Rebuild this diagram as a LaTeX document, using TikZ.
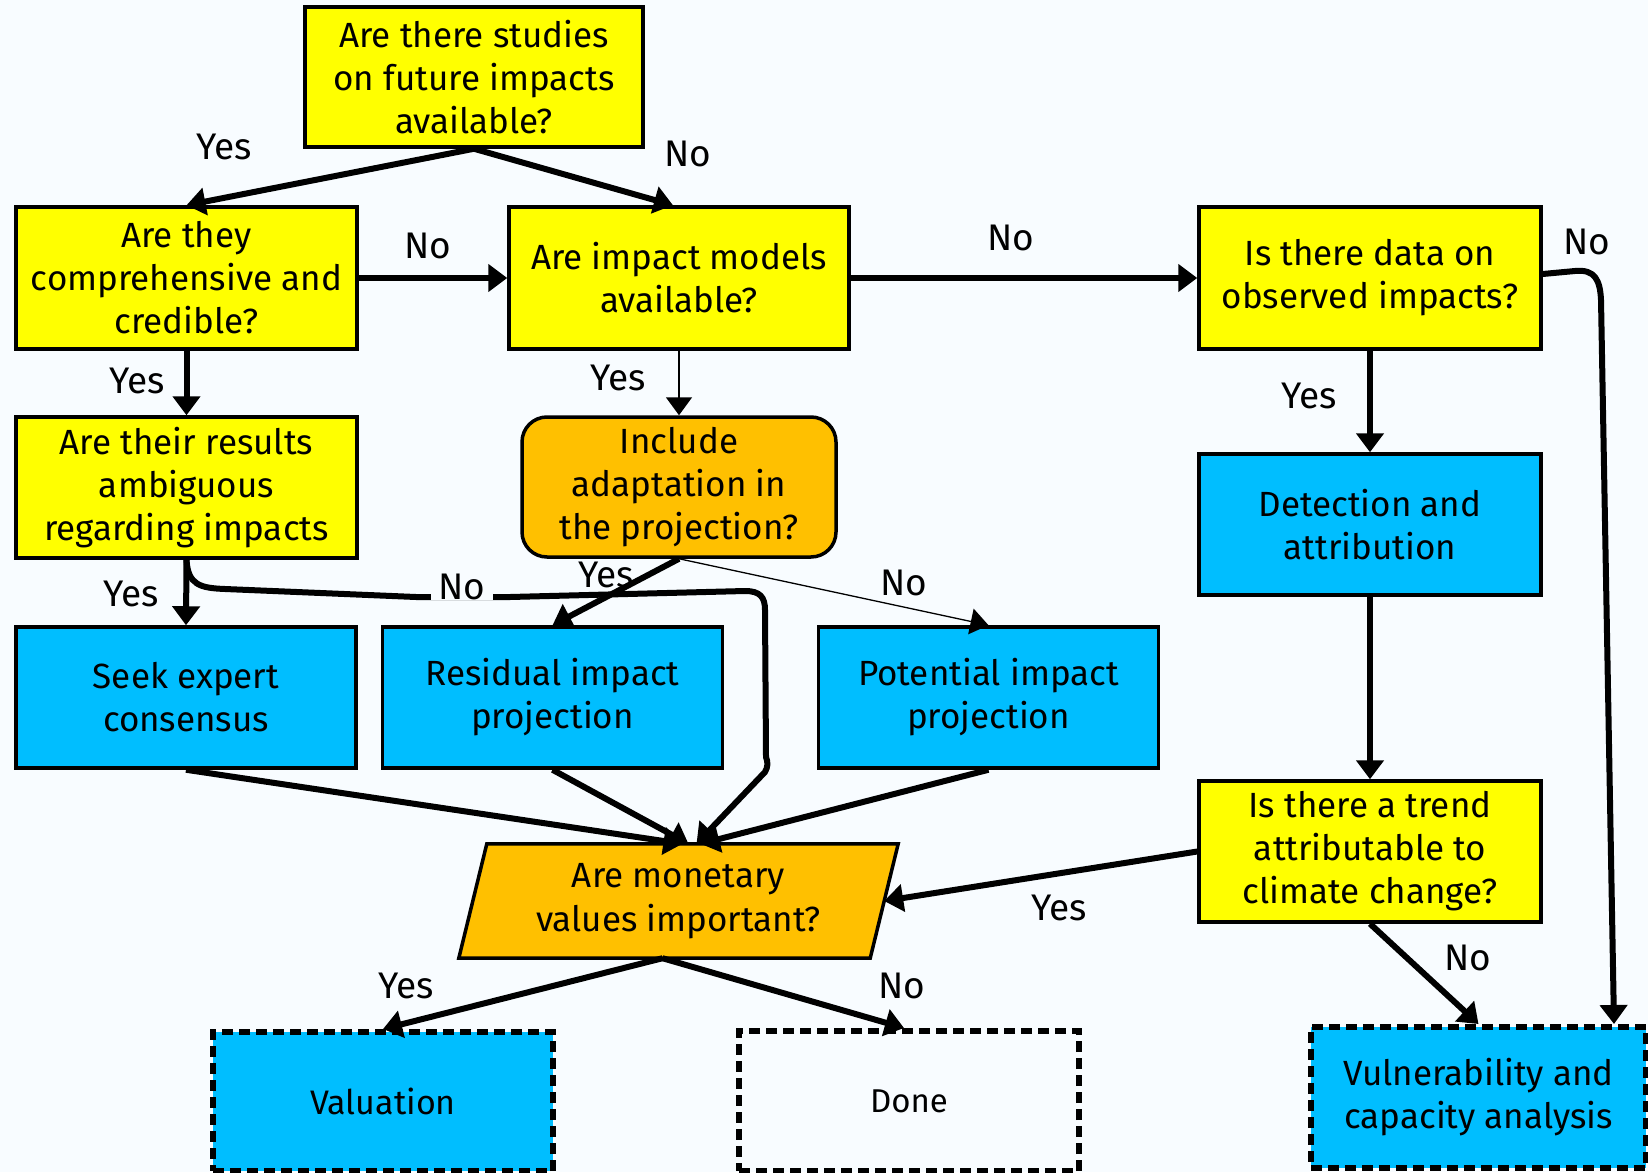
\documentclass[tikz,border=0pt]{standalone}
\usepackage{fontspec}
\setmainfont{Fira Sans}
\usetikzlibrary{arrows.meta,calc,backgrounds}
\definecolor{bg}{RGB}{248,252,255}
\definecolor{qyellow}{RGB}{255,255,0}
\definecolor{pblue}{RGB}{0,190,255}
\definecolor{porange}{RGB}{255,192,0}
\begin{document}
\begin{tikzpicture}[x=1pt,y=-1pt,
  box/.style={draw=black, line width=3.5pt, rectangle, align=center, inner sep=0pt,
    font=\fontsize{35}{43}\selectfont},
  qbox/.style={box, fill=qyellow},
  bbox/.style={box, fill=pblue},
  obox/.style={box, fill=porange, rounded corners=25pt},
  dbox/.style={box, dash pattern=on 11pt off 6pt, line width=6pt},
  wh/.style 2 args={minimum width=#1pt, minimum height=#2pt},
  lbl/.style={font=\fontsize{37}{44}\selectfont, inner sep=2pt},
  arr/.style={line width=6pt, -{Triangle[length=19pt,width=27pt]}},
  thinarr/.style={line width=1.6pt, -{Triangle[length=18pt,width=26pt]}},
  ]
\useasboundingbox (0,0) rectangle (1648,1172);
\begin{pgfonlayer}{background}
  \fill[bg] (0,0) rectangle (1648,1172);
\end{pgfonlayer}

% nodes
\node[qbox, wh={338}{140}] (q1) at (474,77) {Are there studies\\on future impacts\\available?};
\node[qbox, wh={341}{142}] (q2) at (186.5,278) {Are they\\comprehensive and\\credible?};
\node[qbox, wh={340}{142}] (q3) at (679,278) {Are impact models\\available?};
\node[qbox, wh={342}{142}] (q4) at (1370,278) {Is there data on\\observed impacts?};
\node[qbox, wh={341}{141}] (q5) at (186.5,487.5) {Are their results\\ambiguous\\regarding impacts};
\node[obox, wh={314}{140}] (q6) at (679,487) {Include\\adaptation in\\the projection?};
\node[bbox, wh={342}{141}] (b1) at (1370,524.5) {Detection and\\attribution};
\node[bbox, wh={340}{141}] (b2) at (186,697.5) {Seek expert\\consensus};
\node[bbox, wh={340}{141}] (b3) at (552.5,697.5) {Residual impact\\projection};
\node[bbox, wh={340}{141}] (b4) at (988.5,697.5) {Potential impact\\projection};
\node[qbox, wh={342}{141}] (q8) at (1370,851.5) {Is there a trend\\attributable to\\climate change?};
\node[align=center, inner sep=0pt, font=\fontsize{35}{44}\selectfont, wh={411}{114}] (par) at (678.5,901) {Are monetary\\values important?};
\begin{pgfonlayer}{background}
  \filldraw[fill=porange, draw=black, line width=3.5pt, line join=miter]
    ([xshift=14pt]par.north west) -- ([xshift=14pt]par.north east)
    -- ([xshift=-14pt]par.south east) -- ([xshift=-14pt]par.south west) -- cycle;
\end{pgfonlayer}
\node[dbox, fill=pblue, wh={340}{139}, font=\fontsize{34}{40}\selectfont] (d1) at (383,1101.5) {Valuation};
\node[dbox, fill=bg, wh={340}{140}, font=\fontsize{33}{40}\selectfont] (d2) at (909,1101) {Done};
\node[dbox, fill=pblue, wh={335}{141}] (d3) at (1478.5,1097.5) {Vulnerability and\\capacity analysis};

% connectors
\draw[arr] (q1.south) -- (q2.north);
\draw[arr] (q1.south) -- ([xshift=-6pt]q3.north);
\draw[arr] (q2.east) -- (q3.west);
\draw[arr] (q3.east) -- (q4.west);
\draw[arr] ([yshift=4pt]q4.east) -- (1575,271)
   .. controls (1595,269) and (1600,280) .. (1601,300) -- ([xshift=135.5pt]d3.north);
\draw[arr] (q2.south) -- (q5.north);
\draw[thinarr] (q3.south) -- (q6.north);
\draw[arr] (q4.south) -- (b1.north);
\draw[arr] (q5.south) -- (b2.north);
\draw[arr] (q5.south) .. controls (188,585) and (200,588) .. (225,589) -- (416,597) -- (510,597)
   -- (745,591) .. controls (760,591) and (765,597) .. (765,610) -- (766,757)
   .. controls (768,762) and (768,767) .. (765,772) -- ([xshift=18pt]par.north);
\draw[arr] (q6.south) -- (b3.north);
\draw[thinarr, line width=1.3pt] (q6.south) -- (b4.north);
\draw[arr] (b2.south) -- ([xshift=4pt]par.north);
\draw[arr] (b3.south) -- ([xshift=10pt]par.north);
\draw[arr] (b4.south) -- ([xshift=22pt]par.north);
\draw[arr] (b1.south) -- (q8.north);
\draw[arr] (q8.west) -- (par.east);
\draw[arr] (q8.south) -- (d3.north);
\draw[arr] ([xshift=-16pt]par.south) -- (d1.north);
\draw[arr] ([xshift=-16pt]par.south) -- ([xshift=-5pt]d2.north);

% labels
\node[lbl] (l1) at (224,147) {Yes};
\node[lbl] (l2) at (688,154) {No};
\node[lbl] (l3) at (428,246) {No};
\node[lbl] (l4) at (1011,238) {No};
\node[lbl] (l5) at (1587,242) {No};
\node[lbl] (l6) at (137,381) {Yes};
\node[lbl] (l7) at (618,378) {Yes};
\node[lbl] (l8) at (1309,396) {Yes};
\node[lbl] (l9) at (131,594) {Yes};
\node[lbl, fill=bg, inner xsep=8pt, inner ysep=0pt] (l10) at (462,587) {No};
\node[lbl] (l11) at (606,575) {Yes};
\node[lbl] (l12) at (904,583) {No};
\node[lbl] (l13) at (1059,908) {Yes};
\node[lbl] (l14) at (1468,958) {No};
\node[lbl] (l15) at (406,986) {Yes};
\node[lbl] (l16) at (902,986) {No};
\end{tikzpicture}
\end{document}
